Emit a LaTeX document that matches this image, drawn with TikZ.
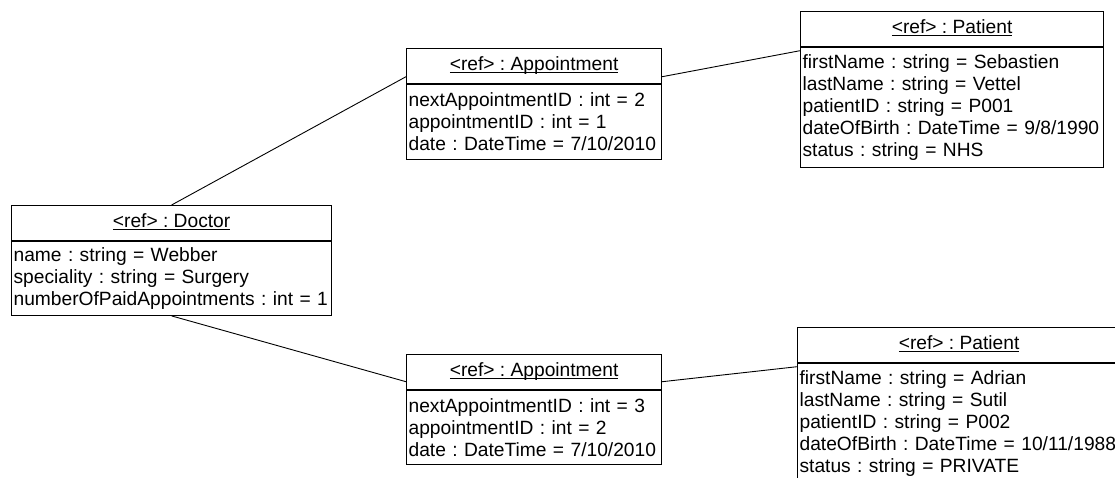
\documentclass[tikz,border=0pt]{standalone}
\usepackage{fontspec}
\setmainfont{Liberation Sans}
\frenchspacing
\newcommand\objul[1]{\setbox0=\hbox{#1}\rlap{\rule[-2.6pt]{\wd0}{1pt}}\box0}
\tikzset{
  umlfont/.style={font=\fontsize{19.2}{22}\selectfont\frenchspacing},
  objhead/.style={draw, line width=1.2pt, umlfont, anchor=north west, minimum height=34.5pt, inner sep=0pt, text height=14pt, text depth=4pt},
  objbody/.style={draw, line width=1.2pt, umlfont, anchor=north west, inner xsep=2pt, inner ysep=0pt, align=left},
  link/.style={line width=0.9pt},
}
\begin{document}
\begin{tikzpicture}[x=1pt,y=-1pt]
\useasboundingbox (0,0) rectangle (1115,477);
\fill[white] (0,0) rectangle (1115,477);
\clip (0,0) rectangle (1115,477);

% Doctor
\node[objhead, minimum width=320pt] (dh) at (11,205) {\objul{<ref> : Doctor}};
\node[objbody, text width=316pt, minimum height=74pt] (db) at (dh.south west) {name : string = Webber\\speciality : string = Surgery\\numberOfPaidAppointments : int = 1};

% Appointment 1
\node[objhead, minimum width=255pt] (a1h) at (406,48) {\objul{<ref> : Appointment}};
\node[objbody, text width=251pt, minimum height=75pt] (a1b) at (a1h.south west) {nextAppointmentID : int = 2\\appointmentID : int = 1\\date : DateTime = 7/10/2010};

% Appointment 2
\node[objhead, minimum width=255pt] (a2h) at (406,354) {\objul{<ref> : Appointment}};
\node[objbody, text width=251pt, minimum height=74pt] (a2b) at (a2h.south west) {nextAppointmentID : int = 3\\appointmentID : int = 2\\date : DateTime = 7/10/2010};

% Patient 1
\node[objhead, minimum width=303pt] (p1h) at (800,11) {\objul{<ref> : Patient}};
\node[objbody, text width=299pt, minimum height=120pt] (p1b) at (p1h.south west) {firstName : string = Sebastien\\lastName : string = Vettel\\patientID : string = P001\\dateOfBirth : DateTime = 9/8/1990\\status : string = NHS};

% Patient 2
\node[objhead, minimum width=323pt] (p2h) at (797,327) {\objul{<ref> : Patient}};
\node[objbody, text width=319pt, minimum height=120pt] (p2b) at (p2h.south west) {firstName : string = Adrian\\lastName : string = Sutil\\patientID : string = P002\\dateOfBirth : DateTime = 10/11/1988\\status : string = PRIVATE};

% Links
\draw[link] (dh.north) -- ([yshift=7pt]a1h.south west);
\draw[link] ([yshift=7pt]a1h.south east) -- ([yshift=-4pt]p1h.south west);
\draw[link] (db.south) -- ([yshift=8pt]a2h.south west);
\draw[link] ([yshift=8pt]a2h.south east) -- ([yshift=-4pt]p2h.south west);
\end{tikzpicture}
\end{document}
